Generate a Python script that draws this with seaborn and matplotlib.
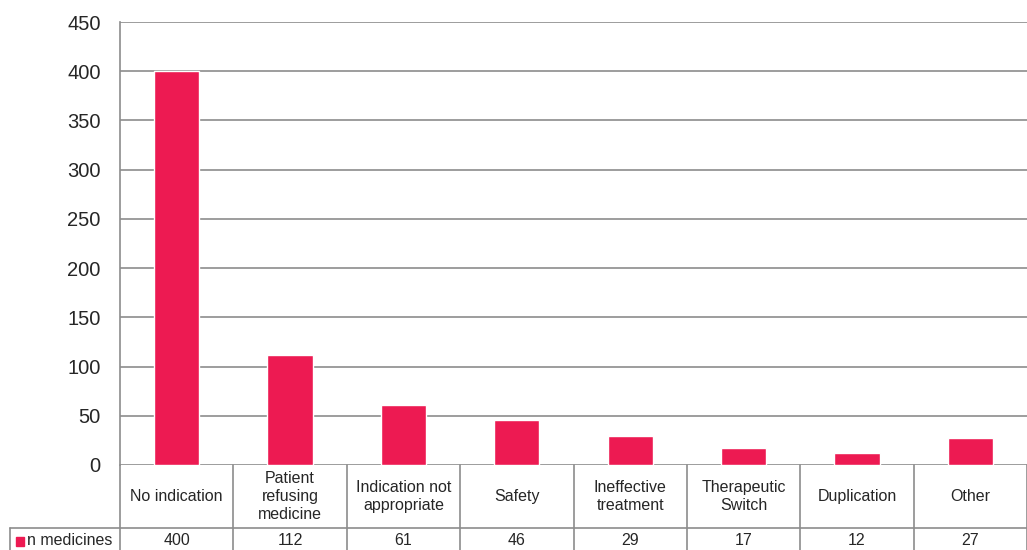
import pandas as pd
import seaborn as sns
import matplotlib.pyplot as plt
from matplotlib.transforms import blended_transform_factory

# Data
categories = ['No indication', 'Patient\nrefusing\nmedicine', 'Indication not\nappropriate',
              'Safety', 'Ineffective\ntreatment', 'Therapeutic\nSwitch', 'Duplication', 'Other']
n_medicines = [400, 112, 61, 46, 29, 17, 12, 27]
series_name = 'n medicines'

bar_color = '#ED1A52'
line_color = '#8C8C8C'

df = pd.DataFrame({'Category': categories, 'Value': n_medicines})

sns.set_style('white')
plt.rcParams['font.family'] = ['Liberation Sans', 'DejaVu Sans']

fig = plt.figure(figsize=(10.27, 5.5), dpi=100)
ax = fig.add_axes([120 / 1027, 85 / 550, 907 / 1027, 443 / 550])

sns.barplot(data=df, x='Category', y='Value', color=bar_color, width=0.4,
            saturation=1, ax=ax)

ax.set_ylim(0, 450)
ax.set_xlim(-0.5, len(categories) - 0.5)
ax.set_yticks(range(0, 451, 50))
ax.tick_params(axis='y', labelsize=14.5, length=0, pad=14)
ax.set_xticks([])
ax.set_xlabel('')
ax.set_ylabel('')
ax.grid(axis='y', color=line_color, linewidth=1.2)
ax.set_axisbelow(True)
for side in ['top', 'right', 'bottom']:
    ax.spines[side].set_visible(False)
ax.spines['left'].set_color(line_color)
ax.spines['left'].set_linewidth(1.2)

# Data table under the chart
trans = blended_transform_factory(ax.transData, fig.transFigure)
row_split = (550 - 528) / 550
top = 85 / 550
for i in range(len(categories) + 1):
    ax.plot([i - 0.5, i - 0.5], [0, top], transform=trans, color=line_color,
            lw=1.2, clip_on=False)
for i, (cat, val) in enumerate(zip(categories, n_medicines)):
    fig.text(i, (top + row_split) / 2, cat, transform=trans, ha='center',
             va='center', fontsize=11.5, linespacing=1.25)
    fig.text(i, row_split / 2 - 0.003, str(val), transform=trans, ha='center',
             va='center', fontsize=11.5)

fig.add_artist(plt.Line2D([10 / 1027, 1], [row_split, row_split], color=line_color, lw=1.2))
fig.add_artist(plt.Line2D([10 / 1027, 10 / 1027], [0, row_split], color=line_color, lw=1.2))
fig.add_artist(plt.Rectangle((16 / 1027, 4 / 550), 8 / 1027, 9 / 550, color=bar_color))
fig.text(27 / 1027, row_split / 2 - 0.003, series_name, ha='left', va='center', fontsize=11.5)

fig.savefig('out.png', dpi=100)
